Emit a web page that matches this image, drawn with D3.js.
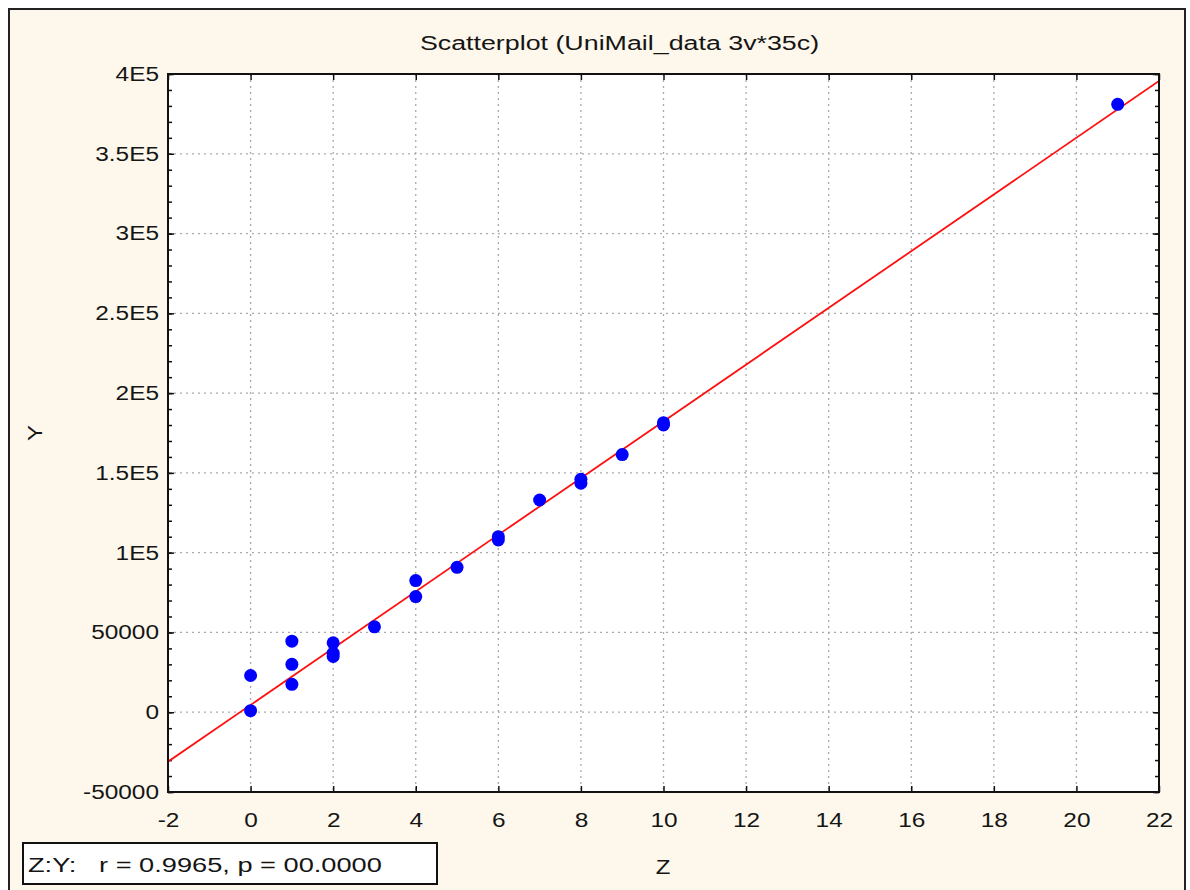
<!DOCTYPE html>
<html>
<head>
<meta charset="utf-8">
<script src="https://cdn.jsdelivr.net/npm/d3@7"></script>
<style>
  body { margin: 0; background: #fff; }
  text { font-family: "Liberation Sans", Arial, sans-serif; fill: #151515; }
</style>
</head>
<body>
<div id="chart"></div>
<script>
'use strict';
// data
var zValues = [0, 0, 1, 1, 1, 2, 2, 2, 3, 4, 4, 5, 6, 6, 7, 8, 8, 9, 10, 10, 21];
var yValues = [1000, 23000, 44500, 30000, 17500, 43500, 37000, 35000, 53500, 82500, 72500, 90800, 108000, 110000, 133000, 143500, 146000, 161500, 180000, 181500, 381000];
var fitLine = [[-2, -31000], [22, 395600]];
var xTicks = [-2, 0, 2, 4, 6, 8, 10, 12, 14, 16, 18, 20, 22];
var yTicks = [-50000, 0, 50000, 100000, 150000, 200000, 250000, 300000, 350000, 400000];
var yTickLabels = ['-50000', '0', '50000', '1E5', '1.5E5', '2E5', '2.5E5', '3E5', '3.5E5', '4E5'];
var chartTitle = 'Scatterplot (UniMail_data 3v*35c)';
var statsText = 'Z:Y:   r = 0.9965, p = 00.0000';

var W = 1190, H = 890;
var margin = {top: 74, right: 31, bottom: 98, left: 168},
  width = W - margin.left - margin.right,
  height = H - margin.top - margin.bottom;

// the source font is drawn wide, so stretch text horizontally
function stretch(sel, f) {
  sel.each(function() {
    var len = this.getComputedTextLength();
    d3.select(this)
      .attr('textLength', len * f)
      .attr('lengthAdjust', 'spacingAndGlyphs');
  });
}

var svg = d3.select('#chart').append('svg')
  .attr('width', W)
  .attr('height', H);

// outer frame
svg.append('rect')
  .attr('x', 0).attr('y', 0).attr('width', W).attr('height', H)
  .attr('fill', '#fff');
svg.append('rect')
  .attr('x', 9).attr('y', 9).attr('width', W - 14).attr('height', H + 10)
  .attr('fill', '#fef8ec')
  .attr('stroke', '#222')
  .attr('stroke-width', 2);

var x = d3.scaleLinear().domain([-2, 22]).range([0, width]);
var y = d3.scaleLinear().domain([-50000, 400000]).range([height, 0]);

var g = svg.append('g')
  .attr('transform', 'translate(' + margin.left + ',' + margin.top + ')');

g.append('rect')
  .attr('width', width).attr('height', height)
  .attr('fill', '#fff');

// grid
g.selectAll('.vgrid')
  .data(xTicks.slice(1, -1))
  .enter().append('line')
  .attr('x1', function(d) { return x(d); })
  .attr('x2', function(d) { return x(d); })
  .attr('y1', 0).attr('y2', height)
  .attr('stroke', '#aaaaaa')
  .attr('stroke-width', 1.3)
  .attr('stroke-dasharray', '2,4');

g.selectAll('.hgrid')
  .data(yTicks.slice(1, -1))
  .enter().append('line')
  .attr('y1', function(d) { return y(d); })
  .attr('y2', function(d) { return y(d); })
  .attr('x1', 0).attr('x2', width)
  .attr('stroke', '#aaaaaa')
  .attr('stroke-width', 1.3)
  .attr('stroke-dasharray', '2,4');

// axes, ticks pointing inward
var minorY = d3.range(-50000, 400001, 10000);

var xAxis = g.append('g')
  .attr('transform', 'translate(0,' + height + ')')
  .call(d3.axisBottom(x).tickValues(xTicks).tickSizeInner(-6).tickSizeOuter(0).tickPadding(29)
    .tickFormat(String));
xAxis.select('.domain').remove();
xAxis.selectAll('text').style('font-size', '20px').attr('dy', '0.32em');

g.append('g')
  .call(d3.axisTop(x).tickValues(xTicks).tickSizeInner(-6).tickSizeOuter(0).tickFormat(''))
  .call(function(a) { a.select('.domain').remove(); });

g.append('g')
  .call(d3.axisLeft(y).tickValues(minorY).tickSizeInner(-4).tickSizeOuter(0).tickFormat(''))
  .call(function(a) { a.select('.domain').remove(); });

g.append('g')
  .attr('transform', 'translate(' + width + ',0)')
  .call(d3.axisRight(y).tickValues(minorY).tickSizeInner(-4).tickSizeOuter(0).tickFormat(''))
  .call(function(a) { a.select('.domain').remove(); });

var yAxis = g.append('g')
  .call(d3.axisLeft(y).tickValues(yTicks).tickSizeInner(-6).tickSizeOuter(0).tickPadding(9)
    .tickFormat(function(d, i) { return yTickLabels[i]; }));
yAxis.select('.domain').remove();
yAxis.selectAll('text').style('font-size', '20px');

g.append('g')
  .attr('transform', 'translate(' + width + ',0)')
  .call(d3.axisRight(y).tickValues(yTicks).tickSizeInner(-6).tickSizeOuter(0).tickFormat(''))
  .call(function(a) { a.select('.domain').remove(); });

g.selectAll('.tick line').attr('stroke', '#111').attr('stroke-width', 1.5);

stretch(xAxis.selectAll('text'), 1.22);
stretch(yAxis.selectAll('text'), 1.22);

// fitted line
g.append('clipPath').attr('id', 'plotclip')
  .append('rect').attr('width', width).attr('height', height);

g.append('path')
  .datum(fitLine)
  .attr('clip-path', 'url(#plotclip)')
  .attr('fill', 'none')
  .attr('stroke', '#ff1010')
  .attr('stroke-width', 1.8)
  .attr('d', d3.line()
    .x(function(d) { return x(d[0]); })
    .y(function(d) { return y(d[1]); }));

// points
g.selectAll('.dot')
  .data(zValues)
  .enter().append('circle')
  .attr('class', 'dot')
  .attr('cx', function(d) { return x(d); })
  .attr('cy', function(d, i) { return y(yValues[i]); })
  .attr('r', 6.5)
  .attr('fill', '#0000ff');

// plot border
g.append('rect')
  .attr('width', width).attr('height', height)
  .attr('fill', 'none')
  .attr('stroke', '#111')
  .attr('stroke-width', 2);

// title and axis labels
var title = svg.append('text')
  .attr('x', margin.left + width / 2 - 44)
  .attr('y', 50)
  .attr('text-anchor', 'middle')
  .style('font-size', '20px')
  .text(chartTitle);
stretch(title, 1.34);

var yLabel = svg.append('text')
  .attr('transform', 'translate(42,433) rotate(-90)')
  .attr('text-anchor', 'middle')
  .style('font-size', '20px')
  .text('Y');
stretch(yLabel, 1.2);

var xLabel = svg.append('text')
  .attr('x', 663)
  .attr('y', 874)
  .attr('text-anchor', 'middle')
  .style('font-size', '20px')
  .text('Z');
stretch(xLabel, 1.2);

// stats box
svg.append('rect')
  .attr('x', 23).attr('y', 843).attr('width', 414).attr('height', 41)
  .attr('fill', '#fff')
  .attr('stroke', '#111')
  .attr('stroke-width', 2);

var stats = svg.append('text')
  .attr('x', 28)
  .attr('y', 872)
  .style('font-size', '20px')
  .attr('xml:space', 'preserve')
  .text(statsText);
stretch(stats, 1.36);
</script>
</body>
</html>
